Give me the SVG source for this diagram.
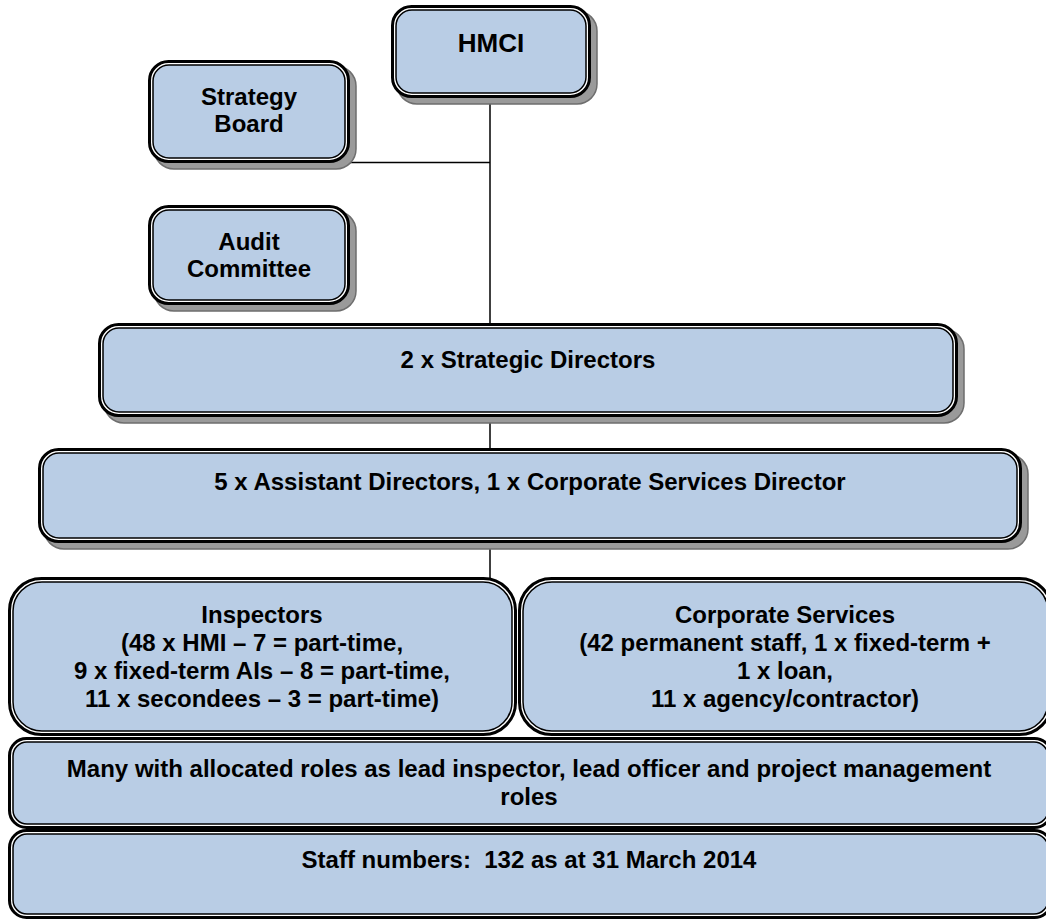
<svg xmlns="http://www.w3.org/2000/svg" width="1046" height="920" viewBox="0 0 1046 920">
<style>
.sh{fill:#9a9a9a;stroke:#6e6e6e;stroke-width:1.5}
.o{fill:#ffffff;stroke:#000;stroke-width:3}
.i{fill:#B9CDE5;stroke:#000;stroke-width:1.5}
.t{font-family:"Liberation Sans",Arial,sans-serif;font-weight:bold;font-size:24px;fill:#000;text-anchor:middle}
.c{stroke:#000;stroke-width:1.5;fill:none}
</style>
<rect width="1046" height="920" fill="#fff"/>
<g id="connectors">
<line class="c" x1="490" y1="96" x2="490" y2="324"/>
<line class="c" x1="348" y1="162.5" x2="490" y2="162.5"/>
<line class="c" x1="490" y1="416" x2="490" y2="449"/>
<line class="c" x1="490" y1="542" x2="490" y2="578"/>
</g>
<g id="hmci">
<rect class="sh" x="397" y="11" width="200" height="93" rx="20"/>
<rect class="o" x="392.5" y="6.5" width="197" height="90" rx="19"/>
<rect class="i" x="396" y="10" width="190" height="83" rx="16"/>
<text class="t" x="491" y="52" style="font-size:26px">HMCI</text>
</g>
<g id="strategy-board">
<rect class="sh" x="154" y="66" width="202" height="103" rx="20"/>
<rect class="o" x="149.5" y="61.5" width="199" height="100" rx="19"/>
<rect class="i" x="153" y="65" width="192" height="93" rx="16"/>
<text class="t" x="249" y="105">Strategy</text>
<text class="t" x="249" y="132">Board</text>
</g>
<g id="audit-committee">
<rect class="sh" x="154" y="211" width="202" height="100" rx="20"/>
<rect class="o" x="149.5" y="206.5" width="199" height="97" rx="19"/>
<rect class="i" x="153" y="210" width="192" height="90" rx="16"/>
<text class="t" x="249" y="250">Audit</text>
<text class="t" x="249" y="277">Committee</text>
</g>
<g id="strategic-directors">
<rect class="sh" x="104" y="329" width="860" height="94" rx="20"/>
<rect class="o" x="99.5" y="324.5" width="857" height="91" rx="19"/>
<rect class="i" x="103" y="328" width="850" height="84" rx="16"/>
<text class="t" x="528" y="368">2 x Strategic Directors</text>
</g>
<g id="assistant-directors">
<rect class="sh" x="44" y="454" width="984" height="95" rx="20"/>
<rect class="o" x="39.5" y="449.5" width="981" height="92" rx="19"/>
<rect class="i" x="43" y="453" width="974" height="85" rx="16"/>
<text class="t" x="530" y="490">5 x Assistant Directors, 1 x Corporate Services Director</text>
</g>
<g id="inspectors">
<rect class="o" x="9.5" y="578.5" width="506" height="156" rx="32"/>
<rect class="i" x="13" y="582" width="499" height="149" rx="29"/>
<text class="t" x="262" y="623">Inspectors</text>
<text class="t" x="262" y="651">(48 x HMI – 7 = part-time,</text>
<text class="t" x="262" y="679">9 x fixed-term AIs – 8 = part-time,</text>
<text class="t" x="262" y="707">11 x secondees – 3 = part-time)</text>
</g>
<g id="corporate-services">
<rect class="o" x="519.5" y="578.5" width="532" height="156" rx="32"/>
<rect class="i" x="523" y="582" width="525" height="149" rx="29"/>
<text class="t" x="785" y="623">Corporate Services</text>
<text class="t" x="785" y="651">(42 permanent staff, 1 x fixed-term +</text>
<text class="t" x="785" y="679">1 x loan,</text>
<text class="t" x="785" y="707">11 x agency/contractor)</text>
</g>
<g id="roles">
<rect class="o" x="9.5" y="738.5" width="1042" height="89" rx="17"/>
<rect class="i" x="13" y="742" width="1035" height="82" rx="14"/>
<text class="t" x="529" y="777">Many with allocated roles as lead inspector, lead officer and project management</text>
<text class="t" x="529" y="805">roles</text>
</g>
<g id="staff-numbers">
<rect class="o" x="9.5" y="830.5" width="1042" height="87" rx="17"/>
<rect class="i" x="13" y="834" width="1035" height="80" rx="14"/>
<text class="t" x="529" y="868">Staff numbers:&#160; 132 as at 31 March 2014</text>
</g>
</svg>
